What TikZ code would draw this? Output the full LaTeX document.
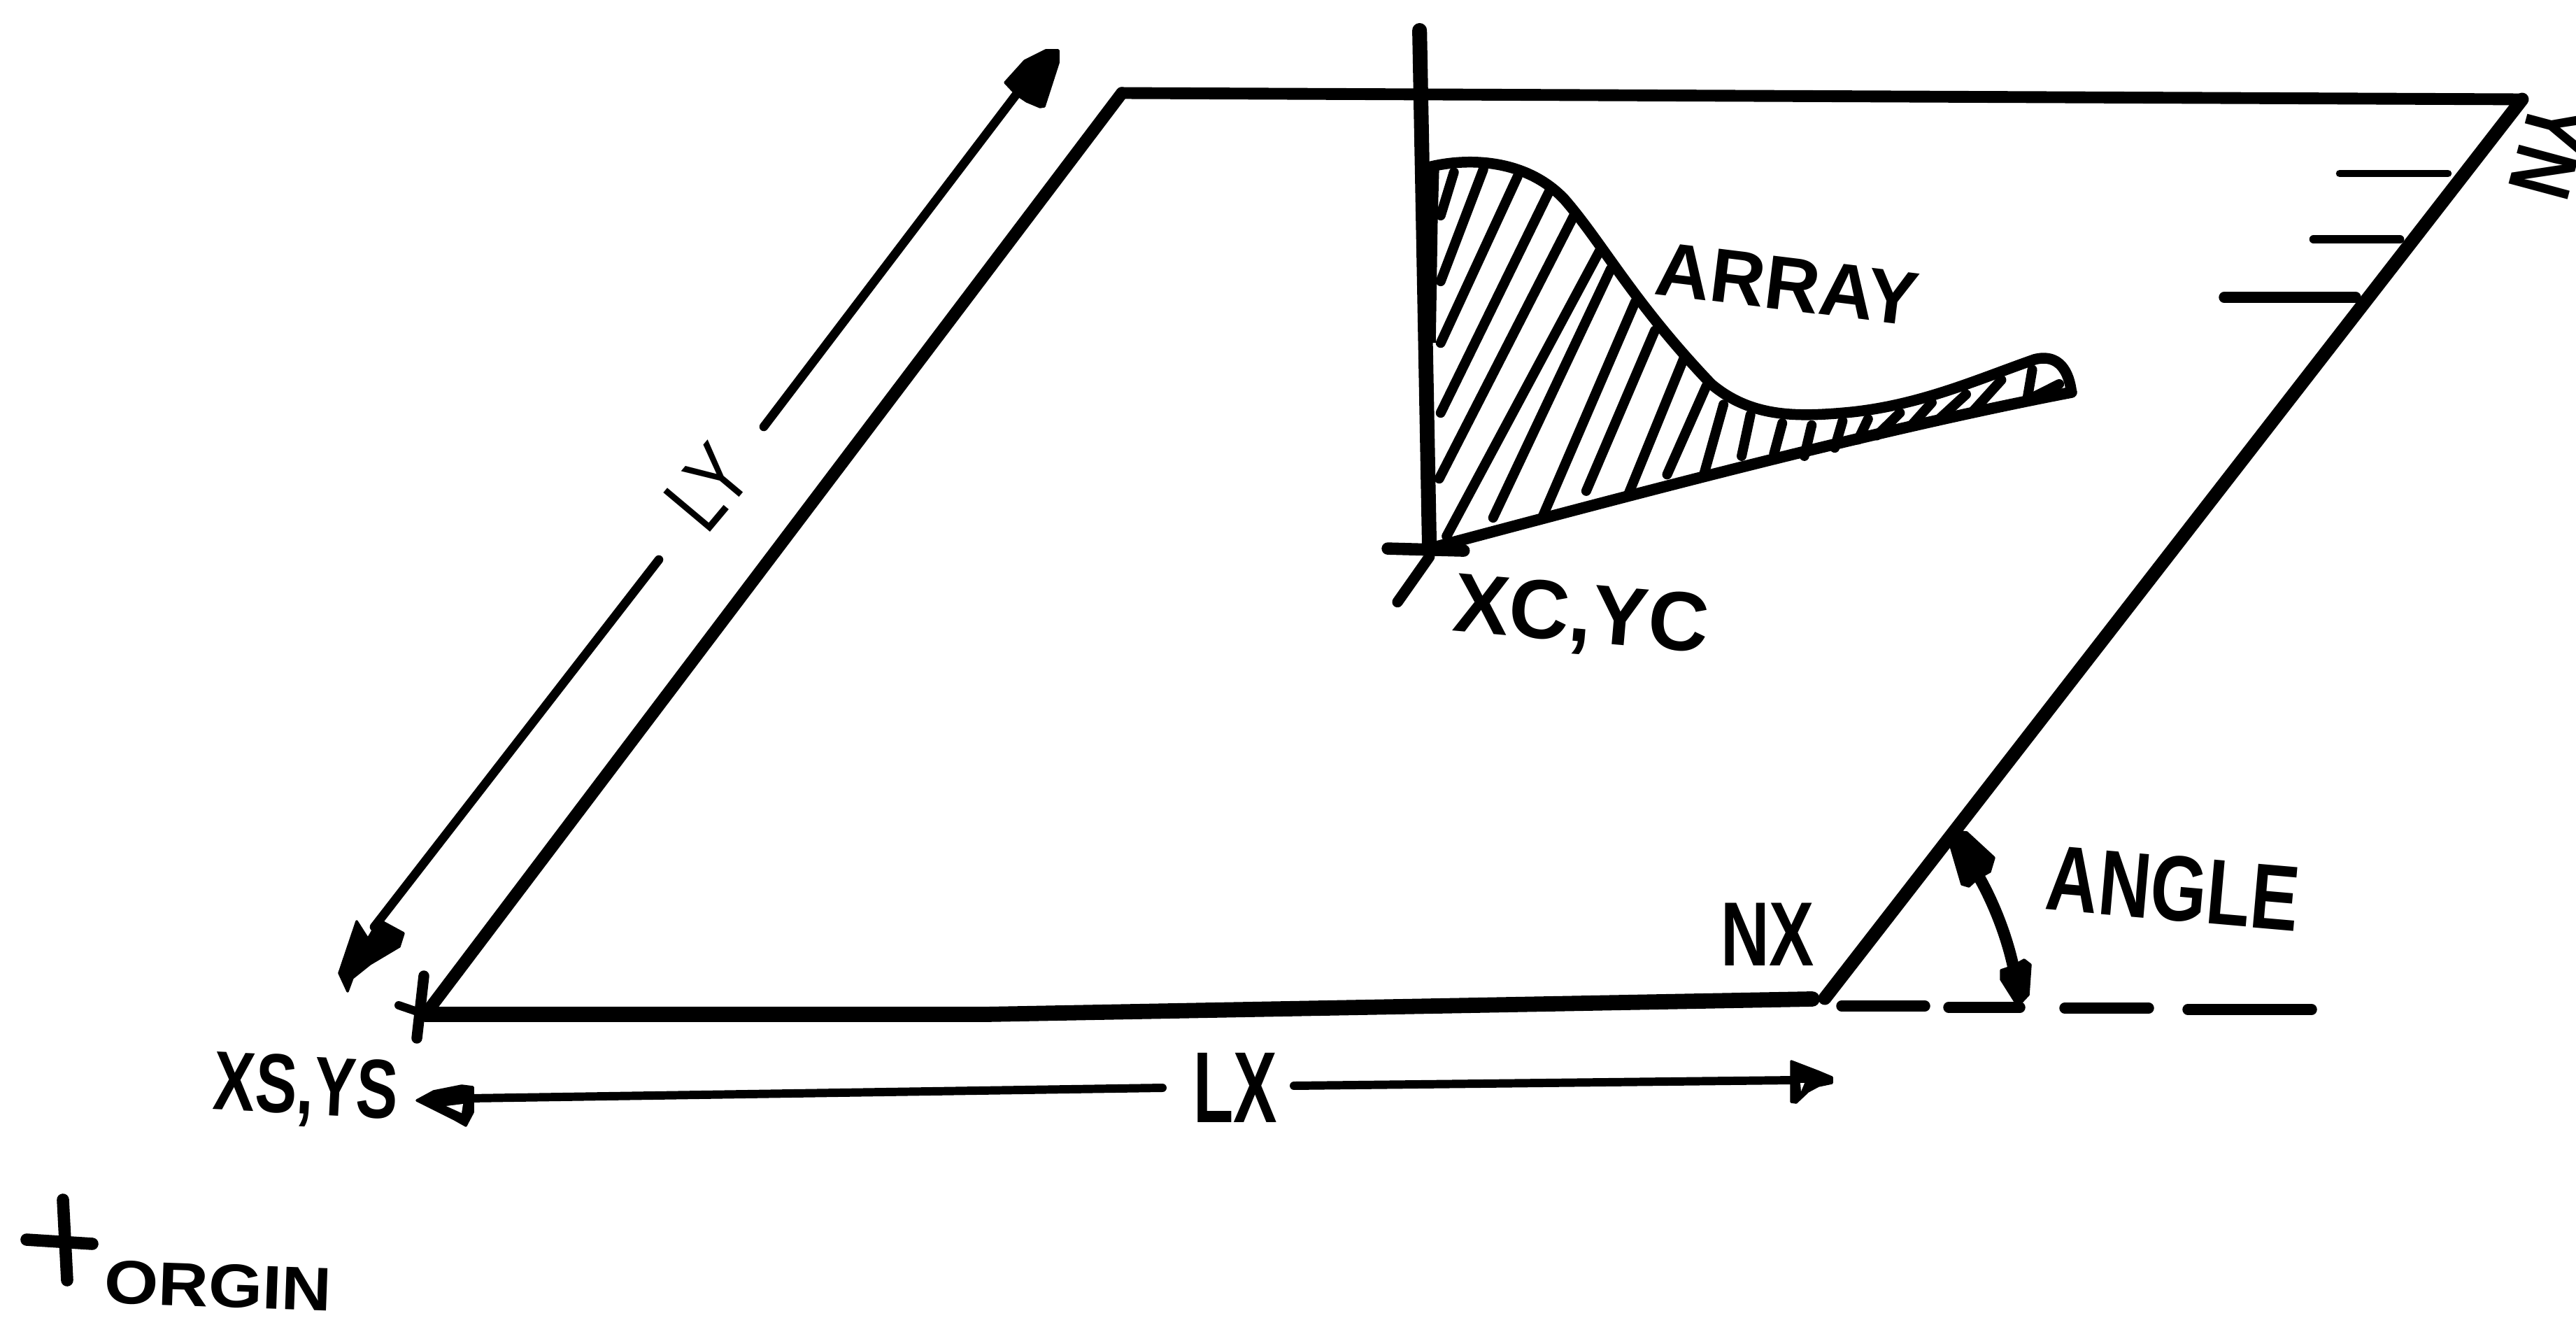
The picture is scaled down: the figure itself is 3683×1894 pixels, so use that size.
\documentclass[tikz,border=0pt]{standalone}
\usepackage{fontspec}
\setmainfont{Liberation Sans}
\newcommand{\hand}[3]{\fontsize{#1}{#1}\selectfont\bfseries\scalebox{#2}[1]{#3}}
\newcommand{\handthin}[3]{\fontsize{#1}{#1}\selectfont\scalebox{#2}[1]{#3}}
\tikzset{
  ink/.style={draw=black,line cap=round,line join=round},
  heavy/.style={ink,line width=6.2pt},
  frame/.style={ink,line width=5pt},
  fine/.style={ink,line width=3.4pt},
  hair/.style={ink,line width=3.6pt},
  hatch/.style={ink,line width=4pt},
  head/.style={ink,fill=black,line width=1pt},
  hole/.style={fill=white,draw=none},
  lab/.style={inner sep=0pt,outer sep=0pt,text=black,anchor=center},
}
\begin{document}
\begin{tikzpicture}[x=0.01cm,y=-0.01cm]
\useasboundingbox (0,0) rectangle (3683,1894);
\clip (0,0) rectangle (3683,1894);
\fill[white] (0,0) rectangle (3683,1894);
% corners of the sheet
\coordinate (A) at (608,1450);
\coordinate (B) at (1604,133);
\coordinate (C) at (3606,142);
\coordinate (D) at (2609,1427);
\coordinate (E) at (2591,1428);
\coordinate (Bm) at (1409,1450);
\draw[frame] (A) -- (B);
\draw[frame,line width=4.8pt] (B) -- (C);
\draw[heavy] (A) -- (Bm) -- (E);
\draw[heavy,line width=5.4pt] (D) -- (C);
% start cross
\coordinate (t1) at (606,1395);
\coordinate (t2) at (596,1484);
\coordinate (t3) at (570,1437);
\draw[fine,line width=4.4pt] (t1) -- (t2);
\draw[fine] (t3) -- (A);
% ticks
\coordinate (k1a) at (3345,248); \coordinate (k1b) at (3500,248);
\coordinate (k2a) at (3308,342); \coordinate (k2b) at (3431,342);
\coordinate (k3a) at (3180,425); \coordinate (k3b) at (3368,425);
\draw[ink,line width=3pt] (k1a) -- (k1b);
\draw[ink,line width=3.6pt] (k2a) -- (k2b);
\draw[ink,line width=4.4pt] (k3a) -- (k3b);
% dashes
\coordinate (d1a) at (2633,1438); \coordinate (d1b) at (2752,1438);
\coordinate (d2a) at (2786,1440); \coordinate (d2b) at (2888,1440);
\coordinate (d3a) at (2952,1441); \coordinate (d3b) at (3072,1441);
\coordinate (d4a) at (3128,1443); \coordinate (d4b) at (3305,1443);
\foreach \a/\b in {d1a/d1b,d2a/d2b,d3a/d3b,d4a/d4b}{\draw[fine,line width=4.4pt] (\a) -- (\b);}
% angle arrow
\coordinate (an1) at (2815,1230);
\coordinate (an2) at (2882,1400);
\draw[fine,line width=4.8pt] (an1) .. controls (2845,1275) and (2872,1340) .. (an2);
\fill[head] (2794,1188) -- (2812,1190) -- (2851,1226) -- (2845,1246) -- (2827,1256) -- (2815,1267) -- (2805,1264) -- (2788,1206) -- cycle;
\fill[head] (2885,1438) -- (2900,1422) -- (2903,1379) -- (2894,1372) -- (2876,1382) -- (2861,1387) -- (2861,1400) -- cycle;
% LX arrow
\node[lab] (LX) at (1766,1555) {\hand{41}{0.65}{LX}};
\coordinate (lxl) at (670,1570);
\coordinate (lxm1) at (1662,1555);
\coordinate (lxm2) at (1850,1552);
\coordinate (lxr) at (2565,1544);
\draw[fine] (lxl) -- (lxm1);
\draw[fine] (lxm2) -- (lxr);
\fill[head] (596,1573) -- (620,1560) -- (660,1552) -- (676,1554) -- (676,1590) -- (666,1609) -- (650,1600) -- cycle;
\fill[hole] (638,1581) -- (662,1578) -- (660,1591) -- cycle;
\fill[head] (2561,1517) -- (2600,1532) -- (2619,1540) -- (2619,1548) -- (2600,1552) -- (2585,1560) -- (2568,1576) -- (2561,1575) -- cycle;
\fill[hole] (2574,1548) -- (2580,1548) -- (2575,1560) -- cycle;
% LY arrow
\node[lab,rotate=50] (LY) at (1012,697) {\handthin{36}{0.75}{LY}};
\coordinate (ly1) at (1092,610);
\coordinate (ly2) at (1453,135);
\coordinate (ly3) at (942,800);
\coordinate (ly4) at (535,1325);
\draw[hair] (ly1) -- (ly2);
\draw[hair] (ly3) -- (ly4);
\fill[head] (1495,72) -- (1465,87) -- (1437,118) -- (1453,135) -- (1468,145) -- (1487,153) -- (1493,152) -- (1513,90) -- (1513,72) -- cycle;
\fill[head] (497,1417) -- (485,1391) -- (510,1317) -- (526,1342) -- (542,1315) -- (577,1334) -- (571,1353) -- (529,1378) -- (504,1398) -- cycle;
% array plot
\begin{scope}[shift={(1900,20)},x=0.00701cm,y=-0.00587cm]
\coordinate (ax1) at (185,40);
\coordinate (ax2) at (205,1300);
\coordinate (c0) at (205,372);
\coordinate (c1) at (1515,920);
\draw[ink,line width=6pt] (ax1) -- (ax2);
\fill (190,375) -- (225,375) -- (222,500) -- (218,800) -- (190,800) -- cycle;
\draw[ink,line width=4.4pt] (c0) .. controls (280,350) and (400,350) .. (480,450)
  .. controls (560,560) and (620,700) .. (780,900)
  .. controls (860,980) and (950,980) .. (1050,970)
  .. controls (1200,955) and (1320,890) .. (1440,840)
  .. controls (1490,825) and (1510,870) .. (c1);
\draw[ink,line width=4.6pt] (c1) .. controls (1100,1015) and (600,1175) .. (ax2);
\foreach \a/\b/\c/\d in {
 255/385/228/490,
 315/378/228/650,
 385/395/228/800,
 450/430/228/970,
 500/490/225/1130,
 555/570/240/1270,
 575/620/335/1225,
 625/700/435/1225,
 665/770/525/1160,
 725/835/612/1165,
 770/905/690/1120,
 805/950/765/1120,
 860/975/842/1075,
 925/995/908/1070,
 985/1000/970/1075,
 1048/990/1032/1055,
 1100/985/1080/1035,
 1165/970/1118/1025,
 1230/945/1185/1005,
 1300/925/1245/985,
 1372/890/1315/965,
 1435/865/1425/935,
 1490/900/1440/930}{\draw[hatch] (\a,\b) -- (\c,\d);}
\coordinate (x1) at (120,1300);
\coordinate (x2) at (275,1305);
\coordinate (x3) at (205,1320);
\coordinate (x4) at (140,1430);
\draw[ink,line width=5pt] (x1) -- (x2);
\draw[ink,line width=4.4pt] (x3) -- (x4);
\end{scope}
% origin
\coordinate (o1) at (90,1715); \coordinate (o2) at (96,1830);
\coordinate (o3) at (38,1772); \coordinate (o4) at (132,1778);
\draw[fine,line width=5pt] (o1) -- (o2);
\draw[fine,line width=5pt] (o3) -- (o4);
% labels
\node[lab,rotate=-7] (ARR) at (2555,406) {\hand{31}{1}{ARRAY}};
\node[lab,rotate=-5] (XC) at (2260,885) {\hand{34}{1}{XC,YC}};
\node[lab,rotate=-3] (XS) at (437,1560) {\hand{34}{0.75}{XS,YS}};
\node[lab] (NX) at (2527,1336) {\hand{37}{0.74}{NX}};
\node[lab,rotate=-5] (ANG) at (3107,1270) {\hand{37.7}{0.78}{ANGLE}};
\node[lab,rotate=-2] (ORG) at (312,1838) {\hand{25}{1.13}{ORGIN}};
\node[lab,rotate=75] (NY) at (3645,215) {\hand{36}{0.77}{N\rotatebox[origin=c]{180}{Y}}};
\end{tikzpicture}
\end{document}
